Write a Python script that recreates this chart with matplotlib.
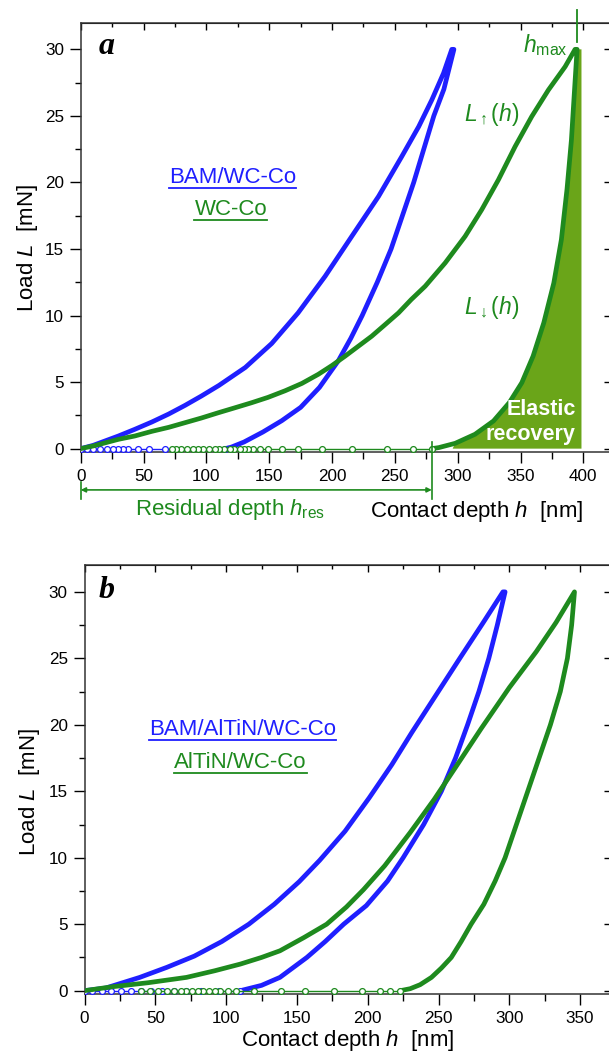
import numpy as np
import matplotlib
matplotlib.use('Agg')
import matplotlib.pyplot as plt
from matplotlib.lines import Line2D
from matplotlib.ticker import MultipleLocator, NullLocator

plt.rcParams['font.family'] = ['Liberation Sans', 'DejaVu Sans']
plt.rcParams['mathtext.fontset'] = 'custom'
plt.rcParams['mathtext.rm'] = 'Liberation Sans'
plt.rcParams['mathtext.it'] = 'Liberation Sans:italic'
plt.rcParams['mathtext.bf'] = 'Liberation Sans:bold'

BLUE = '#1f1fff'
GREEN = '#1e8a1e'
FILL = '#6aa519'

# ---- panel a : BAM/WC-Co (blue) and WC-Co (green) ----
blue_a_load_h = [0, 10, 20, 30, 43, 56.6, 70, 83, 96, 110, 131, 152, 173, 194.5, 215.7, 237, 255.5, 269, 279.4, 288.7, 295.3]
blue_a_load_L = [0, 0.25, 0.6, 0.95, 1.45, 2.0, 2.6, 3.25, 3.95, 4.75, 6.1, 7.9, 10.2, 12.95, 15.95, 18.95, 21.95, 24.2, 26.2, 28.2, 30.0]
blue_a_unload_h = [297, 289, 281, 273, 265, 256, 247, 236, 224, 215, 205, 190, 175, 160, 145, 130, 120, 115]
blue_a_unload_L = [30.0, 27.0, 25.0, 22.5, 20.0, 17.5, 15.0, 12.5, 10.0, 8.3, 6.6, 4.6, 3.1, 2.1, 1.25, 0.5, 0.12, 0.0]
blue_a_zero_h = [115, 67, 54, 46, 38, 34, 30, 26, 21, 15.5, 10, 5, 0]

green_a_load_h = [0, 10, 20, 30, 43, 56.6, 70, 83, 96, 109.6, 122, 136, 149, 162.7, 176, 189, 200, 210.4, 221, 231.6,
                  242, 252.9, 263, 274.1, 290, 305.9, 319.1, 332.4, 345.7, 358.9, 372.2, 385.5, 393.4]
green_a_load_L = [0, 0.2, 0.45, 0.7, 0.95, 1.3, 1.6, 1.95, 2.3, 2.7, 3.05, 3.45, 3.85, 4.35, 4.9, 5.58, 6.25, 6.95, 7.7, 8.45,
                  9.3, 10.2, 11.2, 12.2, 13.95, 15.95, 17.95, 20.2, 22.7, 24.95, 26.95, 28.7, 30.0]
green_a_unload_h = [395, 393, 390.5, 387, 382.5, 376.5, 368.5, 360, 351, 341, 328.5, 313.8, 298, 285, 279.4]
green_a_unload_L = [30.0, 27.0, 23.2, 19.5, 15.7, 12.45, 9.45, 6.95, 4.95, 3.45, 2.08, 1.08, 0.4, 0.08, 0.0]
green_a_zero_h = [279.4, 264.8, 243.6, 215.7, 191.9, 173.3, 160, 149.4, 142.8, 137.5, 133.5, 130, 126.5, 122,
                  118.5, 114, 110, 106.5, 102, 97.5, 93, 89, 84.5, 80, 76, 72.5]

h_max_a = 395.0
h_res_a = 279.4
recovery_start = 296.0
recovery_edge = 398.5

# ---- panel b : BAM/AlTiN/WC-Co (blue) and AlTiN/WC-Co (green) ----
blue_b_load_h = [0, 15, 39, 58, 77.5, 97, 116, 134, 151.6, 166, 184, 201, 217, 231, 248, 265, 281, 295.5]
blue_b_load_L = [0, 0.2, 1.0, 1.75, 2.6, 3.7, 5.0, 6.5, 8.2, 9.8, 12.0, 14.5, 17.0, 19.4, 22.2, 25.0, 27.6, 30.0]
blue_b_unload_h = [297, 291.5, 285.5, 278.5, 270.5, 262, 252, 239.5, 225, 214, 199, 183, 170, 157, 138, 125, 110]
blue_b_unload_L = [30.0, 27.5, 25.0, 22.5, 20.0, 17.5, 15.0, 12.5, 10.0, 8.25, 6.4, 5.0, 3.7, 2.5, 1.0, 0.4, 0.0]
blue_b_zero_h = [110, 95, 82, 72, 63, 55, 47, 40, 33, 26, 19, 12, 5, 0]

green_b_load_h = [0, 20, 45, 72, 92, 110, 125, 138, 155, 171, 185, 197, 212, 230, 247, 262, 280, 300, 319, 333, 346]
green_b_load_L = [0, 0.3, 0.6, 1.0, 1.5, 2.0, 2.5, 3.0, 4.0, 5.0, 6.3, 7.6, 9.4, 11.9, 14.4, 16.8, 19.7, 22.8, 25.5, 27.7, 30.0]
green_b_unload_h = [346, 344, 341, 336, 329, 321, 313, 305, 297, 290, 282, 273, 266, 259, 252, 245, 237, 230, 223]
green_b_unload_L = [30.0, 27.5, 25.0, 22.5, 20.0, 17.5, 15.0, 12.5, 10.0, 8.25, 6.5, 5.0, 3.7, 2.5, 1.7, 1.0, 0.45, 0.15, 0.0]
green_b_zero_h = [223, 216, 209, 196, 176, 156, 139, 120, 107, 101, 96, 92, 88, 84, 80, 76, 72, 68, 63, 58, 52, 46, 40]


def draw_curve(ax, h, L, color):
    ax.plot(h, L, '-', color=color, lw=3.4, solid_capstyle='round',
            solid_joinstyle='round', zorder=3)


def draw_zero(ax, h, color):
    ax.plot(h, np.zeros(len(h)), '-o', color=color, lw=1.0, ms=4.2,
            mfc='white', mec=color, mew=0.9, zorder=3)


def style_axes(ax, xmax, xticks):
    ax.set_xlim(0, xmax)
    ax.set_ylim(-0.25, 32.0)
    ax.set_xticks(xticks)
    ax.set_yticks(range(0, 31, 5))
    ax.xaxis.set_minor_locator(MultipleLocator(25))
    ax.yaxis.set_minor_locator(MultipleLocator(2.5))
    ax.tick_params(axis='x', which='major', direction='out', length=8, width=1, labelsize=12.3, pad=4)
    ax.tick_params(axis='x', which='minor', direction='out', length=5, width=1)
    ax.tick_params(axis='y', which='major', direction='out', length=8, width=1, labelsize=12.3, pad=4)
    ax.tick_params(axis='y', which='minor', direction='out', length=4.5, width=1)
    for s in ax.spines.values():
        s.set_linewidth(1.1)
        s.set_color('#333333')
    top = ax.secondary_xaxis('top')
    top.set_xticks(xticks)
    top.xaxis.set_minor_locator(MultipleLocator(25))
    top.tick_params(which='major', direction='in', length=5, width=1, labeltop=False)
    top.tick_params(which='minor', direction='in', length=3, width=1)
    right = ax.secondary_yaxis('right')
    right.set_yticks(range(0, 31, 5))
    right.yaxis.set_minor_locator(NullLocator())
    right.tick_params(direction='in', length=5, width=1, labelright=False)


def underline(fig, txt, color):
    fig.canvas.draw()
    bb = txt.get_window_extent()
    inv = fig.transFigure.inverted()
    (x0, y0), (x1, _) = inv.transform([(bb.x0, bb.y0), (bb.x1, bb.y0)])
    fig.add_artist(Line2D([x0, x1], [y0, y0], color=color, lw=1.3))


fig = plt.figure(figsize=(6.09, 10.57), dpi=100)
ax1 = fig.add_axes([0.1325, 0.5724, 0.8708, 0.4061])
ax2 = fig.add_axes([0.1388, 0.0596, 0.8645, 0.4056])

# ---- panel a ----
rec_h = [h for h in green_a_unload_h if h >= recovery_start][::-1]
rec_L = [L for h, L in zip(green_a_unload_h, green_a_unload_L) if h >= recovery_start][::-1]
ax1.fill([recovery_start] + rec_h + [recovery_edge, recovery_edge],
         [0] + rec_L + [max(rec_L), 0], color=FILL, lw=0, zorder=2)

draw_curve(ax1, blue_a_load_h + blue_a_unload_h, blue_a_load_L + blue_a_unload_L, BLUE)
draw_zero(ax1, blue_a_zero_h, BLUE)
draw_curve(ax1, green_a_load_h + green_a_unload_h, green_a_load_L + green_a_unload_L, GREEN)
draw_zero(ax1, green_a_zero_h, GREEN)

style_axes(ax1, 422, range(0, 401, 50))
ax1.set_ylabel('Load $L$  [mN]', fontsize=16, va='center')
ax1.yaxis.set_label_coords(-0.101, 0.474)
ax1.set_xlabel('Contact depth $h$  [nm]', fontsize=16, va='center')
ax1.xaxis.set_label_coords(0.7467, -0.139)

ax1.text(0.0496, 0.9435, 'a', transform=ax1.transAxes, fontsize=23,
         family='Liberation Serif', weight='bold', style='italic', ha='center', va='center')
t1 = ax1.text(0.2863, 0.639, 'BAM/WC-Co', transform=ax1.transAxes, fontsize=16,
              color=BLUE, ha='center', va='center')
t2 = ax1.text(0.2829, 0.5647, 'WC-Co', transform=ax1.transAxes, fontsize=16,
              color=GREEN, ha='center', va='center')

ax1.text(370, 30.3, r'$h_{\rm max}$', fontsize=16.5, color=GREEN, ha='center', va='center')
ax1.plot([h_max_a, h_max_a], [30.58, 32.96], color=GREEN, lw=1.3, clip_on=False, zorder=5)
ax1.text(326.6, 25.07, r'$L_{\uparrow}(h)$', fontsize=16.5, color=GREEN, ha='center', va='center')
ax1.text(326.6, 10.6, r'$L_{\downarrow}(h)$', fontsize=16.5, color=GREEN, ha='center', va='center')
ax1.text(394, 2.0, 'Elastic\nrecovery', fontsize=15.5, color='white', weight='bold',
         ha='right', va='center', multialignment='right', linespacing=1.2, zorder=4)

ax1.annotate('', xy=(0, -3.1), xytext=(h_res_a, -3.1), annotation_clip=False,
             arrowprops=dict(arrowstyle='<|-|>', color=GREEN, lw=1.2,
                             mutation_scale=7, shrinkA=0, shrinkB=0))
ax1.plot([0, 0], [-2.5, -3.8], color=GREEN, lw=1.2, clip_on=False)
ax1.plot([h_res_a, h_res_a], [0.5, -3.8], color=GREEN, lw=1.2, clip_on=False, zorder=5)
ax1.text(0.2815, -0.1348, r'Residual depth $h_{\rm res}$', transform=ax1.transAxes,
         fontsize=16, color=GREEN, ha='center', va='center')

# ---- panel b ----
draw_curve(ax2, blue_b_load_h + blue_b_unload_h, blue_b_load_L + blue_b_unload_L, BLUE)
draw_zero(ax2, blue_b_zero_h, BLUE)
draw_curve(ax2, green_b_load_h + green_b_unload_h, green_b_load_L + green_b_unload_L, GREEN)
draw_zero(ax2, green_b_zero_h, GREEN)

style_axes(ax2, 371.8, range(0, 351, 50))
ax2.set_ylabel('Load $L$  [mN]', fontsize=16, va='center')
ax2.yaxis.set_label_coords(-0.105, 0.472)
ax2.set_xlabel('Contact depth $h$  [nm]', fontsize=16, va='center')
ax2.xaxis.set_label_coords(0.4997, -0.108)

ax2.text(0.0427, 0.942, 'b', transform=ax2.transAxes, fontsize=23,
         family='Liberation Serif', weight='bold', style='italic', ha='center', va='center')
t3 = ax2.text(0.3005, 0.6158, 'BAM/AlTiN/WC-Co', transform=ax2.transAxes, fontsize=16,
              color=BLUE, ha='center', va='center')
t4 = ax2.text(0.2960, 0.541, 'AlTiN/WC-Co', transform=ax2.transAxes, fontsize=16,
              color=GREEN, ha='center', va='center')

for t, c in [(t1, BLUE), (t2, GREEN), (t3, BLUE), (t4, GREEN)]:
    underline(fig, t, c)

fig.savefig('out.png', dpi=100)
